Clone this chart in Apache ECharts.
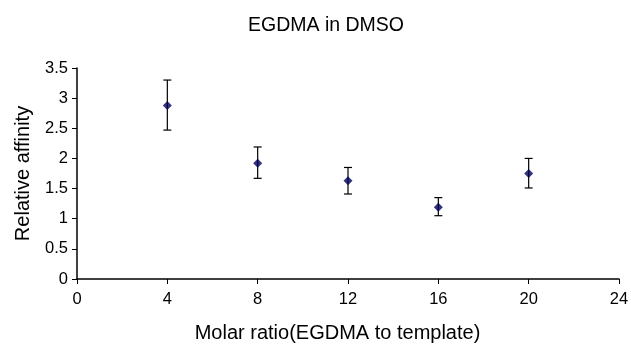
<!DOCTYPE html>
<html>
<head>
<meta charset="utf-8">
<script src="https://cdn.jsdelivr.net/npm/echarts@6/dist/echarts.min.js"></script>
<style>
  html, body { margin: 0; padding: 0; background: #fff; }
  #chart { width: 631px; height: 344px; }
</style>
</head>
<body>
<div id="chart"></div>
<script>
const ratios = [4, 8, 12, 16, 20]
const affinity = [2.88, 1.92, 1.63, 1.19, 1.75]
const errLow = [2.47, 1.67, 1.41, 1.05, 1.51]
const errHigh = [3.30, 2.19, 1.85, 1.35, 2.00]

const chart = echarts.init(document.getElementById('chart'))
const font = 'Liberation Sans, Arial, sans-serif'

const option = {
  animation: false,
  title: {
    text: 'EGDMA in DMSO',
    left: 243,
    top: 11,
    textStyle: { fontFamily: font, fontSize: 19.5, fontWeight: 'normal', color: '#000' }
  },
  grid: { left: 77, right: 12, top: 68, bottom: 65, outerBoundsMode: 'none' },
  xAxis: {
    type: 'value',
    min: 0, max: 24, interval: 4,
    name: 'Molar ratio(EGDMA to template)',
    nameLocation: 'middle',
    nameGap: 44,
    nameTextStyle: { fontFamily: font, fontSize: 20, color: '#000', padding: [0, 21, 0, 0] },
    axisLine: { lineStyle: { color: '#000', width: 1.5 } },
    axisTick: { inside: false, length: 5, lineStyle: { color: '#000' } },
    axisLabel: { fontFamily: font, fontSize: 16.5, color: '#000', margin: 12 },
    splitLine: { show: false }
  },
  yAxis: {
    type: 'value',
    min: 0, max: 3.5, interval: 0.5,
    name: 'Relative affinity',
    nameLocation: 'middle',
    nameGap: 44,
    nameTextStyle: { fontFamily: font, fontSize: 20, color: '#000' },
    axisLine: { show: true, lineStyle: { color: '#000', width: 1.5 } },
    axisTick: { show: true, length: 5, lineStyle: { color: '#000' } },
    axisLabel: { fontFamily: font, fontSize: 16.5, color: '#000', margin: 9 },
    splitLine: { show: false }
  },
  series: [
    {
      type: 'custom',
      data: ratios.map((x, i) => [x, errLow[i], errHigh[i]]),
      renderItem: (params, api) => {
        const lo = api.coord([api.value(0), api.value(1)])
        const hi = api.coord([api.value(0), api.value(2)])
        const cap = 4
        const style = { stroke: '#000', lineWidth: 1.2 }
        return {
          type: 'group',
          children: [
            { type: 'line', shape: { x1: lo[0], y1: lo[1], x2: hi[0], y2: hi[1] }, style },
            { type: 'line', shape: { x1: lo[0] - cap, y1: lo[1], x2: lo[0] + cap, y2: lo[1] }, style },
            { type: 'line', shape: { x1: hi[0] - cap, y1: hi[1], x2: hi[0] + cap, y2: hi[1] }, style }
          ]
        }
      },
      z: 1
    },
    {
      type: 'scatter',
      data: ratios.map((x, i) => [x, affinity[i]]),
      symbol: 'diamond',
      symbolSize: 9,
      itemStyle: { color: '#00005a' },
      z: 2
    }
  ]
}

chart.setOption(option)
</script>
</body>
</html>
